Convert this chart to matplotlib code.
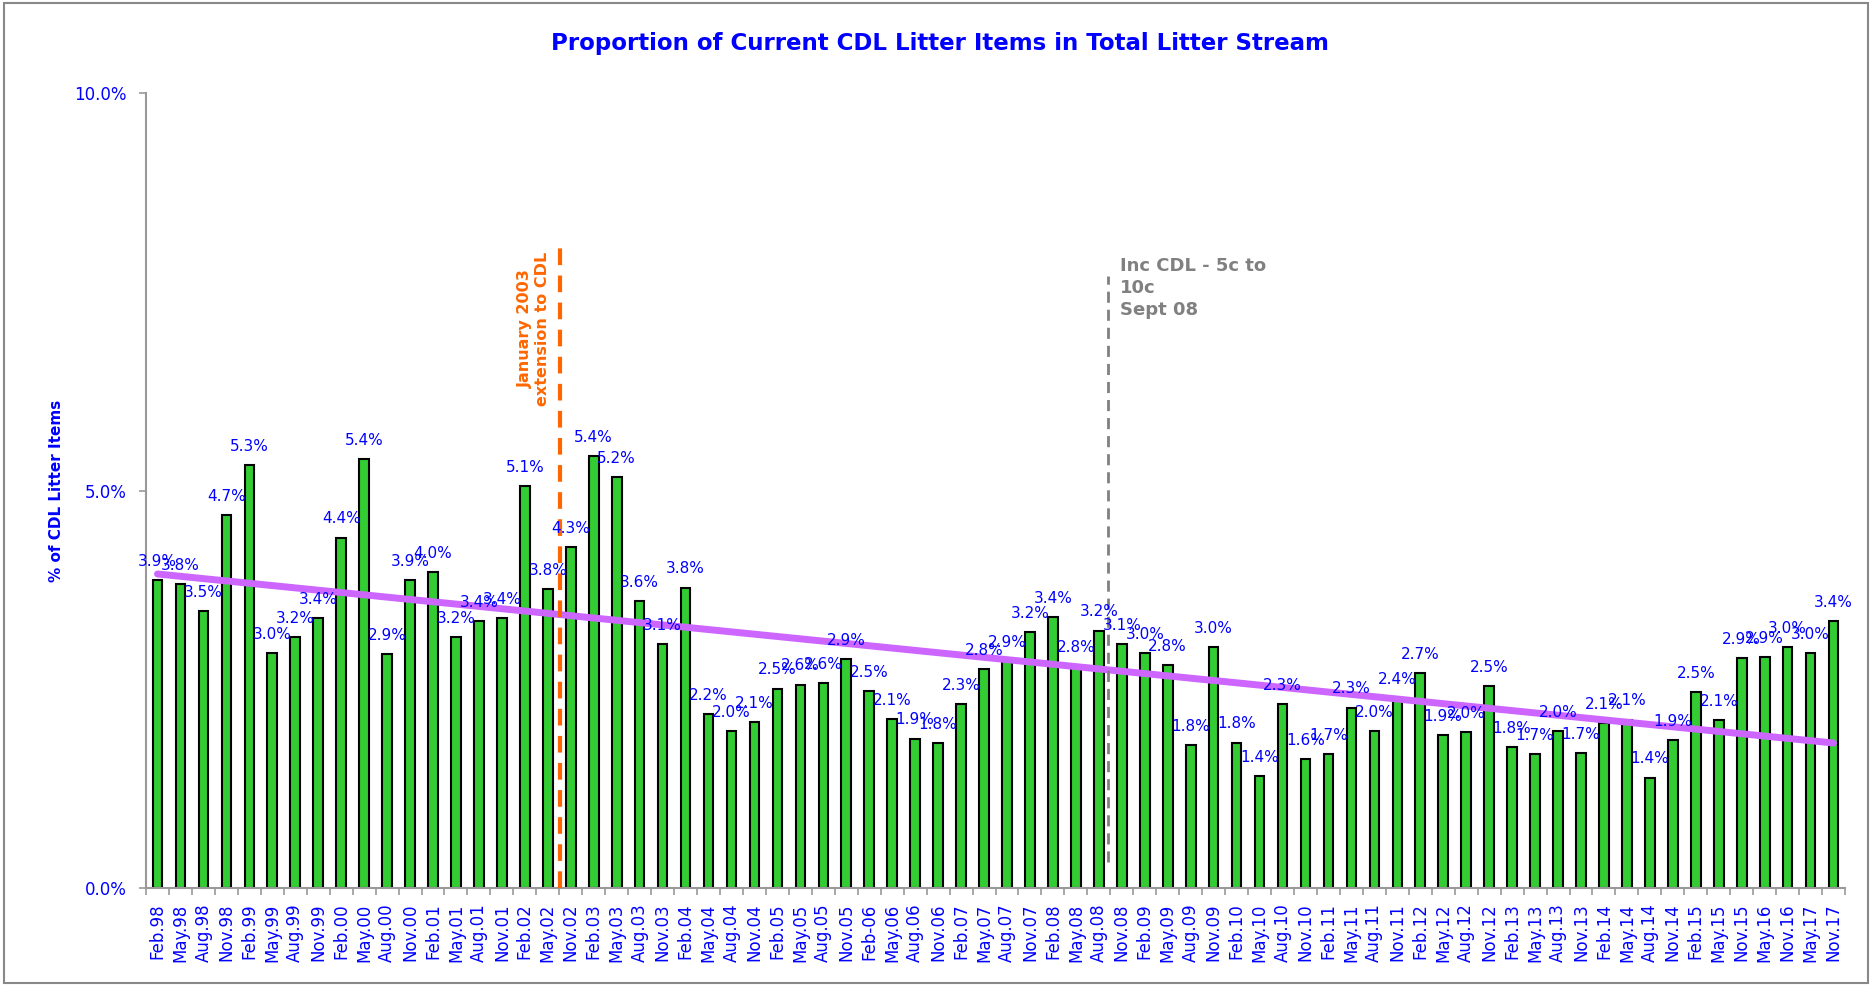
import numpy as np
import matplotlib
matplotlib.use('Agg')
import matplotlib.pyplot as plt
from matplotlib.patches import Rectangle

# survey dates and share of CDL items (%)
dates = ['Feb.98', 'May.98', 'Aug.98', 'Nov.98', 'Feb.99', 'May.99', 'Aug.99', 'Nov.99',
         'Feb.00', 'May.00', 'Aug.00', 'Nov.00', 'Feb.01', 'May.01', 'Aug.01', 'Nov.01',
         'Feb.02', 'May.02', 'Nov.02', 'Feb.03', 'May.03', 'Aug.03', 'Nov.03',
         'Feb.04', 'May.04', 'Aug.04', 'Nov.04', 'Feb.05', 'May.05', 'Aug.05', 'Nov.05',
         'Feb-06', 'May.06', 'Aug.06', 'Nov.06', 'Feb.07', 'May.07', 'Aug.07', 'Nov.07',
         'Feb.08', 'May.08', 'Aug.08', 'Nov.08', 'Feb.09', 'May.09', 'Aug.09', 'Nov.09',
         'Feb.10', 'May.10', 'Aug.10', 'Nov.10', 'Feb.11', 'May.11', 'Aug.11', 'Nov.11',
         'Feb.12', 'May.12', 'Aug.12', 'Nov.12', 'Feb.13', 'May.13', 'Aug.13', 'Nov.13',
         'Feb.14', 'May.14', 'Aug.14', 'Nov.14', 'Feb.15', 'May.15', 'Nov.15',
         'May.16', 'Nov.16', 'May.17', 'Nov.17']
pct = [3.87, 3.83, 3.48, 4.69, 5.32, 2.96, 3.16, 3.40,
       4.41, 5.40, 2.94, 3.87, 3.98, 3.16, 3.36, 3.40,
       5.06, 3.76, 4.29, 5.43, 5.17, 3.61, 3.07,
       3.78, 2.19, 1.97, 2.09, 2.51, 2.56, 2.58, 2.88,
       2.48, 2.13, 1.88, 1.82, 2.31, 2.76, 2.86, 3.22,
       3.41, 2.79, 3.24, 3.07, 2.96, 2.80, 1.80, 3.03,
       1.83, 1.41, 2.32, 1.62, 1.69, 2.27, 1.97, 2.39,
       2.70, 1.93, 1.96, 2.54, 1.77, 1.69, 1.98, 1.70,
       2.08, 2.12, 1.39, 1.86, 2.47, 2.11, 2.89,
       2.91, 3.03, 2.96, 3.36]

x = np.arange(len(dates))
blue = '#0000FF'

fig = plt.figure(figsize=(18.72, 9.86), dpi=100)
ax = fig.add_axes([0.078, 0.0994, 0.9076, 0.806])

ax.bar(x, pct, width=0.42, color='#33CC33', edgecolor='black', linewidth=1.5, zorder=2)
for xi, v in zip(x, pct):
    ax.annotate('{:.1f}%'.format(v), xy=(xi, v), xytext=(0, 8), textcoords='offset points',
                ha='center', va='bottom', color=blue, fontsize=11, zorder=4)

# linear trend
m, c = np.polyfit(x, pct, 1)
ax.plot(x[[0, -1]], m * x[[0, -1]] + c, color='#CC66FF', lw=5, solid_capstyle='round', zorder=3)

# event markers
ax.plot([17.55, 17.55], [0, 8.16], color='#FF6600', lw=3, ls=(0, (4, 2.5)), zorder=3)
ax.text(16.4, 7.04, 'January 2003\nextension to CDL', rotation=90, ha='center', va='center',
        color='#FF6600', fontweight='bold', fontsize=11.5, multialignment='center')
ax.plot([41.4, 41.4], [0.33, 7.7], color='#808080', lw=2, ls=(0, (4, 2.5)), zorder=3)
ax.text(41.9, 7.94, 'Inc CDL - 5c to\n10c\nSept 08', ha='left', va='top', color='#808080',
        fontweight='bold', fontsize=13, linespacing=1.3)

ax.set_xlim(-0.5, len(dates) - 0.5)
ax.set_ylim(0, 10)
ax.set_yticks([0, 5, 10])
ax.set_yticklabels(['0.0%', '5.0%', '10.0%'])
ax.set_xticks(x)
ax.set_xticklabels(dates, rotation=90)
ax.set_xticks(np.arange(-0.5, len(dates)), minor=True)
ax.tick_params(axis='x', which='major', length=0, pad=11, labelsize=12, labelcolor=blue)
ax.tick_params(axis='x', which='minor', length=5, color='#999999', width=1.2)
ax.tick_params(axis='y', length=5, color='#999999', width=1.2, labelsize=12, labelcolor=blue, pad=9)
for s in ['top', 'right']:
    ax.spines[s].set_visible(False)
for s in ['left', 'bottom']:
    ax.spines[s].set_color('#999999')
    ax.spines[s].set_linewidth(1.5)
ax.set_ylabel('% of CDL Litter Items', color=blue, fontweight='bold', fontsize=11, labelpad=7)

fig.text(0.502, 0.956, 'Proportion of Current CDL Litter Items in Total Litter Stream',
         ha='center', va='center', color=blue, fontweight='bold', fontsize=16.5)
fig.patches.append(Rectangle((0.002, 0.003), 0.996, 0.994, transform=fig.transFigure,
                             fill=False, edgecolor='#888888', lw=1.5))

fig.savefig('out.png', dpi=100)
